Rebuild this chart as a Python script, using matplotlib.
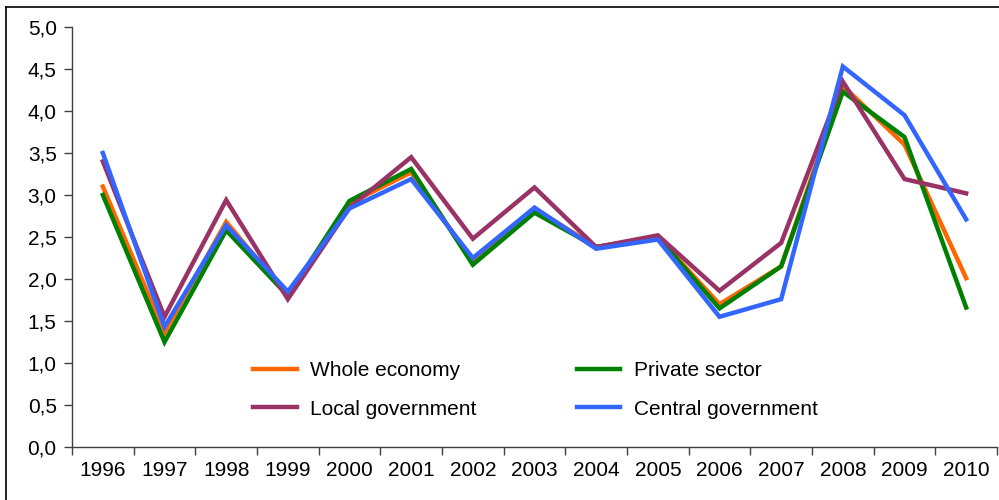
import matplotlib
matplotlib.use("Agg")
import matplotlib.pyplot as plt
from matplotlib.ticker import FuncFormatter, FixedLocator
from matplotlib.lines import Line2D

years = ["1996", "1997", "1998", "1999", "2000", "2001", "2002", "2003",
         "2004", "2005", "2006", "2007", "2008", "2009", "2010"]
whole_economy = [3.10, 1.36, 2.68, 1.80, 2.90, 3.27, 2.20, 2.84, 2.38, 2.50, 1.70, 2.15, 4.30, 3.60, 2.01]
private_sector = [3.00, 1.25, 2.58, 1.80, 2.93, 3.31, 2.17, 2.79, 2.38, 2.50, 1.65, 2.15, 4.23, 3.69, 1.66]
local_government = [3.40, 1.55, 2.94, 1.76, 2.85, 3.45, 2.48, 3.09, 2.38, 2.52, 1.86, 2.43, 4.35, 3.19, 3.02]
central_government = [3.50, 1.43, 2.64, 1.85, 2.84, 3.19, 2.25, 2.85, 2.36, 2.47, 1.55, 1.76, 4.53, 3.95, 2.71]

series = [
    ("Whole economy", whole_economy, "#FF6600"),
    ("Private sector", private_sector, "#008000"),
    ("Local government", local_government, "#993366"),
    ("Central government", central_government, "#3366FF"),
]

plt.rcParams["font.family"] = ["Liberation Sans", "DejaVu Sans"]
W, H = 999, 500
fig = plt.figure(figsize=(W / 100, H / 100), dpi=100)
ax = fig.add_axes([72 / W, 1 - 447 / H, (997 - 72) / W, (447 - 27) / H])

x = list(range(len(years)))
handles = []
for name, vals, col in series:
    ln, = ax.plot(x, vals, color=col, lw=3.2, label=name, solid_joinstyle="miter")
    handles.append(ln)

ax.set_ylim(0, 5.0)
ax.set_xlim(-0.5, len(years) - 0.5)
ax.set_yticks([i * 0.5 for i in range(11)])
ax.yaxis.set_major_formatter(FuncFormatter(lambda v, p: f"{v:.1f}".replace(".", ",")))
ax.set_xticks(x)
ax.set_xticklabels(years)
ax.xaxis.set_minor_locator(FixedLocator([i - 0.5 for i in range(len(years) + 1)]))
ax.tick_params(axis="x", which="major", length=0, pad=10, labelsize=15)
ax.tick_params(axis="x", which="minor", length=6, width=1, color="#404040")
ax.tick_params(axis="y", length=6, width=1, color="#404040", labelsize=15, pad=5)

for s in ["top", "right"]:
    ax.spines[s].set_visible(False)
for s in ["left", "bottom"]:
    ax.spines[s].set_color("#404040")
    ax.spines[s].set_linewidth(1)

order = [0, 2, 1, 3]
leg = ax.legend([handles[i] for i in order], [series[i][0] for i in order],
                ncol=2, frameon=False, loc="center left",
                bbox_to_anchor=(253 / W, 1 - 390.0 / H), bbox_transform=fig.transFigure,
                borderaxespad=0, borderpad=0, fontsize=15, handlelength=2.1,
                handletextpad=0.65, columnspacing=4.8, labelspacing=0.93)

# figure border
fig.add_artist(Line2D([6 / W, 6 / W], [0, 1 - 7 / H], color="black", lw=1.2, transform=fig.transFigure))
fig.add_artist(Line2D([6 / W, 1], [1 - 7 / H, 1 - 7 / H], color="black", lw=1.2, transform=fig.transFigure))

fig.savefig("out.png", dpi=100)
